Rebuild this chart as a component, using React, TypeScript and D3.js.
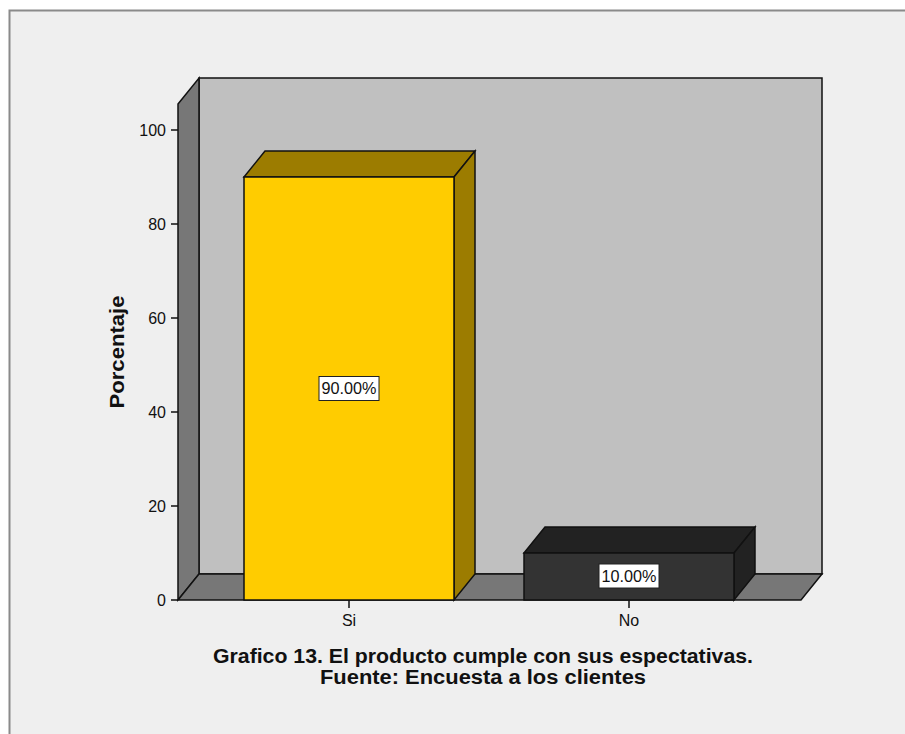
import React from "react";
import * as d3 from "d3";

const categories = ["Si", "No"];
const values = [90, 10];
const valueLabels = ["90.00%", "10.00%"];
const yTicks = [0, 20, 40, 60, 80, 100];
const titleLines = [
  "Grafico 13. El producto cumple con sus espectativas.",
  "Fuente: Encuesta a los clientes",
];
const yLabel = "Porcentaje";

const W = 905;
const H = 734;
const x0 = 178;
const x1 = 801;
const yBottom = 600;
const yTopAxis = 104;
const DX = 21;
const DY = -26;
const font = "'Liberation Sans', Arial, sans-serif";

export default function App() {
  const y = d3.scaleLinear().domain([0, 100]).range([yBottom, 130]);
  const x = d3
    .scaleBand<string>()
    .domain(categories)
    .range([209, 769])
    .paddingInner(0.25)
    .paddingOuter(0.125);
  const bw = x.bandwidth();
  const fronts = ["#ffcc00", "#333333"];
  const tops = ["#9c7c00", "#222222"];
  const sides = ["#9c7c00", "#222222"];
  const pts = (a: number[][]) => a.map((p) => p.join(",")).join(" ");
  const titleWidths = [540, 326];

  return (
    <svg
      width={W}
      height={H}
      style={{ position: "absolute", left: 0, top: 0 }}
    >
      <rect x={0} y={0} width={W} height={H} fill="#ffffff" />
      <rect x={9.5} y={10.5} width={W + 20} height={H + 20} fill="#efefef" stroke="#8a8a8a" strokeWidth={2} />
      <polygon
        points={pts([
          [x0 + DX, yTopAxis + DY],
          [x1 + DX, yTopAxis + DY],
          [x1 + DX, yBottom + DY],
          [x0 + DX, yBottom + DY],
        ])}
        fill="#c0c0c0"
        stroke="#111"
        strokeWidth={1.5}
      />
      <polygon
        points={pts([
          [x0, yTopAxis],
          [x0 + DX, yTopAxis + DY],
          [x0 + DX, yBottom + DY],
          [x0, yBottom],
        ])}
        fill="#777777"
        stroke="#111"
        strokeWidth={1.5}
      />
      <polygon
        points={pts([
          [x0, yBottom],
          [x1, yBottom],
          [x1 + DX, yBottom + DY],
          [x0 + DX, yBottom + DY],
        ])}
        fill="#777777"
        stroke="#111"
        strokeWidth={1.5}
      />
      {categories.map((c, i) => {
        const bx = x(c) as number;
        const by = y(values[i]);
        return (
          <g key={c}>
            <polygon
              points={pts([
                [bx, by],
                [bx + DX, by + DY],
                [bx + bw + DX, by + DY],
                [bx + bw, by],
              ])}
              fill={tops[i]}
              stroke="#111"
              strokeWidth={1.5}
            />
            <polygon
              points={pts([
                [bx + bw, by],
                [bx + bw + DX, by + DY],
                [bx + bw + DX, yBottom + DY],
                [bx + bw, yBottom],
              ])}
              fill={sides[i]}
              stroke="#111"
              strokeWidth={1.5}
            />
            <rect
              x={bx}
              y={by}
              width={bw}
              height={yBottom - by}
              fill={fronts[i]}
              stroke="#111"
              strokeWidth={1.5}
            />
          </g>
        );
      })}
      {categories.map((c, i) => {
        const cx = (x(c) as number) + bw / 2;
        const cy = i === 0 ? (y(values[i]) + yBottom) / 2 : y(values[i]) + 23;
        return (
          <g key={"l" + c}>
            <rect x={cx - 30} y={cy - 12} width={60} height={24} fill="#fff" stroke="#222" strokeWidth={1} />
            <text
              x={cx}
              y={cy + 5.5}
              textAnchor="middle"
              fontFamily={font}
              fontSize={16}
              fill="#111"
              textLength={55}
              lengthAdjust="spacingAndGlyphs"
            >
              {valueLabels[i]}
            </text>
          </g>
        );
      })}
      {yTicks.map((t) => (
        <g key={t}>
          <line x1={x0 - 7} x2={x0} y1={y(t)} y2={y(t)} stroke="#111" strokeWidth={1.5} />
          <text x={x0 - 12} y={y(t) + 6} textAnchor="end" fontFamily={font} fontSize={16} fill="#111">
            {t}
          </text>
        </g>
      ))}
      {categories.map((c) => {
        const cx = (x(c) as number) + bw / 2;
        return (
          <g key={"x" + c}>
            <line x1={cx} x2={cx} y1={yBottom} y2={yBottom + 8} stroke="#111" strokeWidth={1.5} />
            <text x={cx} y={yBottom + 26} textAnchor="middle" fontFamily={font} fontSize={16} fill="#111">
              {c}
            </text>
          </g>
        );
      })}
      <text
        transform={`translate(124,352) rotate(-90)`}
        textAnchor="middle"
        fontFamily={font}
        fontSize={20}
        fontWeight="bold"
        fill="#111"
        textLength={113}
        lengthAdjust="spacingAndGlyphs"
      >
        {yLabel}
      </text>
      {titleLines.map((l, i) => (
        <text
          key={i}
          x={483}
          y={663 + i * 21}
          textAnchor="middle"
          fontFamily={font}
          fontSize={20}
          fontWeight="bold"
          fill="#111"
          textLength={titleWidths[i]}
          lengthAdjust="spacingAndGlyphs"
        >
          {l}
        </text>
      ))}
    </svg>
  );
}
